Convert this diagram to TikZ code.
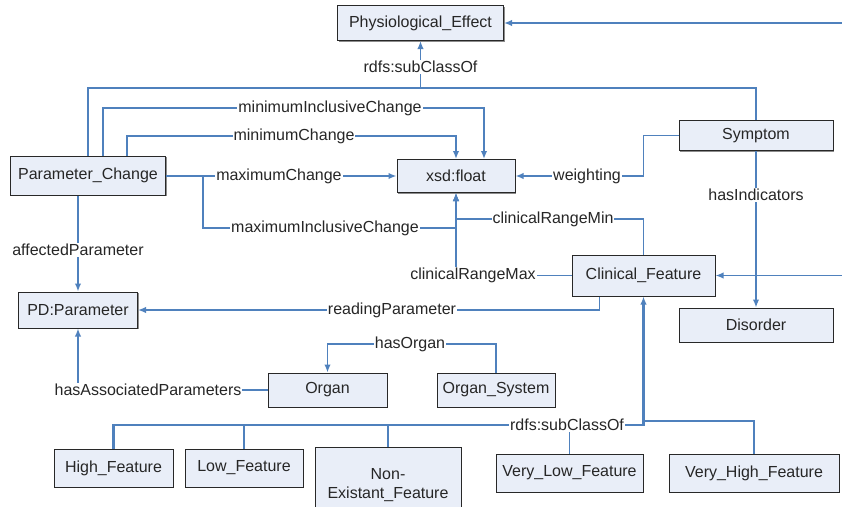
\documentclass[tikz,border=0pt]{standalone}
\usepackage{fontspec}
\setmainfont{Liberation Sans}
\usetikzlibrary{arrows.meta,shadows}
\definecolor{lineblue}{RGB}{79,129,189}
\definecolor{boxfill}{RGB}{233,238,248}
\definecolor{boxdraw}{RGB}{40,40,40}
\begin{document}
\begin{tikzpicture}[x=1pt,y=-1pt,
  box/.style={draw=boxdraw,line width=1pt,fill=boxfill,inner sep=2pt,
    font=\fontsize{16}{19}\selectfont,text=black!85,
    drop shadow={shadow xshift=1.2pt,shadow yshift=-1.2pt,fill=black!45,opacity=1}},
  conn/.style={draw=lineblue,line width=1.8pt},
  arr/.style={conn,-{Latex[length=8pt,width=6.5pt]}},
  lab/.style={fill=white,inner sep=1pt,font=\fontsize{16}{19}\selectfont,text=black!85}]
\useasboundingbox[fill=white] (0,0) rectangle (842,506);

% boxes
\node[box,minimum width=166pt,minimum height=35pt] (PE) at (420.5,23) {Physiological\_Effect};
\node[box,minimum width=155pt,minimum height=39pt] (PC) at (88,175.5) {Parameter\_Change};
\node[box,minimum width=118pt,minimum height=33pt] (xsd) at (456,176) {xsd:float};
\node[box,minimum width=154pt,minimum height=30pt] (Sym) at (756,135.5) {Symptom};
\node[box,minimum width=143pt,minimum height=41pt] (CF) at (643.5,275.5) {Clinical\_Feature};
\node[box,minimum width=154pt,minimum height=34pt] (Dis) at (756,325) {Disorder};
\node[box,minimum width=119pt,minimum height=36pt] (PD) at (78,310) {PD:Parameter};
\node[box,minimum width=119pt,minimum height=34pt] (Org) at (327.5,390) {Organ};
\node[box,minimum width=118pt,minimum height=34pt] (OS) at (496,390) {Organ\_System};
\node[box,minimum width=119pt,minimum height=38pt] (High) at (113.5,468) {High\_Feature};
\node[box,minimum width=118pt,minimum height=38pt] (Low) at (244,468) {Low\_Feature};
\node[box,minimum width=146pt,minimum height=75pt,anchor=north,align=center,inner ysep=11pt] (Non) at (388,447) {Non-\\Existant\_Feature};
\node[box,minimum width=147pt,minimum height=38pt] (VLF) at (569.5,473) {Very\_Low\_Feature};
\node[box,minimum width=170pt,minimum height=38pt] (VHF) at (754,473) {Very\_High\_Feature};

% free ends at the right edge
\coordinate (inPE) at (842,23);
\coordinate (inCF) at (842,275.5);

% connectors
\draw[arr] (inPE) -- (PE.east);
\coordinate (j1) at (420.5,88);
\draw[conn] (PC.north) |- (j1) -| (Sym.north);
\draw[arr] (j1) -- node[lab,pos=0.45]{rdfs:subClassOf} (PE.south);

\draw[arr] ([xshift=15pt]PC.north) |- (330,108) node[lab]{minimumInclusiveChange} -| ([xshift=28pt]xsd.north);
\draw[arr] ([xshift=39pt]PC.north) |- (294,136) node[lab]{minimumChange} -| (xsd.north);
\draw[arr] (PC.east |- xsd.west) -- node[lab,pos=0.49]{maximumChange} (xsd.west);
\coordinate (mic) at (203,176);
\draw[arr] (mic) |- (325,228) node[lab]{maximumInclusiveChange} -| (xsd.south);
\draw[arr] (CF.north) |- (553,219) node[lab]{clinicalRangeMin} -| (xsd.south);
\draw[arr] (CF.west) -- (473,275.5) node[lab]{clinicalRangeMax} -| (xsd.south);
\draw[arr] (Sym.west) -| (643.5,176) -- (587,176) node[lab]{weighting} -- (xsd.east);
\draw[arr] (Sym.south) -- node[lab,pos=0.28]{hasIndicators} (Dis.north);
\draw[arr] (inCF) -- (CF.east);
\draw[arr] ([xshift=-44pt]CF.south) |- (392,310) node[lab]{readingParameter} -- (PD.east);
\draw[arr] (PC.south -| PD.north) -- node[lab,pos=0.57]{affectedParameter} (PD.north);
\draw[arr] (Org.west) -- (148,390) node[lab]{hasAssociatedParameters} -| (PD.south);
\draw[arr] (OS.north) |- (410,344) node[lab]{hasOrgan} -| (Org.north);

\coordinate (sc) at (643.5,421);
\draw[conn] (Low.north) -- ++(0,-23.5);
\draw[conn] (Non.north) -- ++(0,-22);
\draw[conn] (VLF.north) -- ++(0,-28);
\draw[conn] (VHF.north) |- (sc);
\draw[arr,line width=2.4pt] (High.north) |- (567,425) node[lab]{rdfs:subClassOf} -| (CF.south);
\end{tikzpicture}
\end{document}
